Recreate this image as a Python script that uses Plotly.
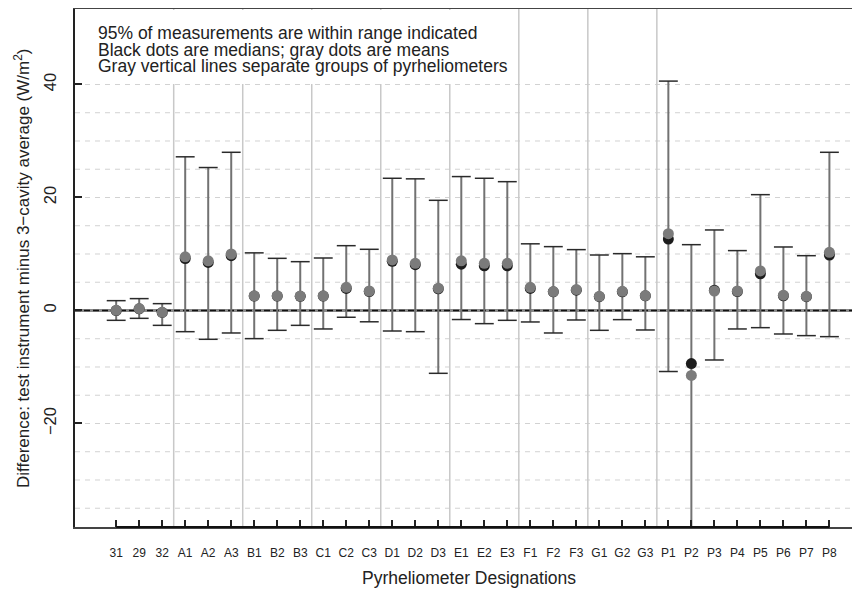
import plotly.graph_objects as go

labels = ["31", "29", "32", "A1", "A2", "A3", "B1", "B2", "B3", "C1", "C2", "C3",
          "D1", "D2", "D3", "E1", "E2", "E3", "F1", "F2", "F3", "G1", "G2", "G3",
          "P1", "P2", "P3", "P4", "P5", "P6", "P7", "P8"]
group_sizes = [3, 3, 3, 3, 3, 3, 3, 3, 8]

means = [0.03, 0.33, -0.33, 9.5, 8.8, 10.0, 2.6, 2.6, 2.55, 2.6, 4.1, 3.45,
         8.95, 8.35, 3.95, 8.8, 8.35, 8.35, 4.1, 3.35, 3.7, 2.5, 3.4, 2.65,
         13.6, -11.5, 3.45, 3.45, 7.0, 2.7, 2.5, 10.3]
medians = [0.0, 0.3, -0.35, 9.2, 8.5, 9.7, 2.55, 2.55, 2.5, 2.55, 3.9, 3.35,
           8.7, 8.1, 3.85, 8.2, 7.9, 7.9, 3.9, 3.3, 3.6, 2.45, 3.3, 2.6,
           12.65, -9.4, 3.6, 3.35, 6.5, 2.6, 2.45, 9.8]
upper = [1.74, 2.1, 1.21, 27.2, 25.3, 28.0, 10.2, 9.23, 8.64, 9.29, 11.47, 10.83,
         23.4, 23.3, 19.5, 23.7, 23.4, 22.8, 11.8, 11.3, 10.77, 9.82, 10.06, 9.5,
         40.6, 11.65, 14.25, 10.6, 20.5, 11.24, 9.7, 28.0]
lower = [-1.74, -1.39, -2.63, -3.75, -5.1, -3.98, -4.98, -3.51, -2.63, -3.27, -1.2, -2.0,
         -3.63, -3.75, -11.12, -1.6, -2.33, -1.74, -2.03, -3.98, -1.68, -3.51, -1.62, -3.45,
         -10.8, -42.0, -8.76, -3.27, -3.04, -4.16, -4.45, -4.63]

y_ticks = [-20, 0, 20, 40]
grid_levels = [-35, -30, -25, -20, -15, -10, -5, 5, 10, 15, 20, 25, 30, 35, 40]
legend_lines = ["95% of measurements are within range indicated",
                "Black dots are medians; gray dots are means",
                "Gray vertical lines separate groups of pyrheliometers"]

FONT = "Liberation Sans, Arial, sans-serif"
TICKFONT = "Liberation Sans Narrow, Liberation Sans, Arial, sans-serif"
OFF = 8  # page body margin in the browser
W, H = 860 - OFF, 590 - OFF
ML, MR, MT, MB = 75 - OFF, 0, 9 - OFF, 590 - 527
PW, PH = W - ML - MR, H - MT - MB


def px_x(sx):
    return (sx - 75) / PW


def px_y(sy):
    return 1 - (sy - 9) / PH


xs = list(range(len(labels)))

seps = []
acc = 0
for g in group_sizes[:-1]:
    acc += g
    seps.append(acc - 0.5)

shapes = []
for lv in grid_levels:
    shapes.append(dict(type="line", xref="paper", yref="y", x0=0, x1=1, y0=lv, y1=lv,
                       line=dict(color="#d2d2d2", width=1, dash="5px,5px"), layer="below"))
for s in seps:
    shapes.append(dict(type="line", xref="x", yref="paper", x0=s, x1=s, y0=0, y1=1,
                       line=dict(color="#c8c8c8", width=1.5), layer="below"))
shapes.append(dict(type="line", xref="paper", yref="y", x0=0, x1=1, y0=0, y1=0,
                   line=dict(color="#8a8a8a", width=3), layer="below"))
shapes.append(dict(type="line", xref="paper", yref="y", x0=0, x1=1, y0=0, y1=0,
                   line=dict(color="#111111", width=1.5, dash="6px,3px"), layer="below"))
shapes.append(dict(type="rect", xref="paper", yref="paper",
                   x0=0.002, x1=px_x(516), y0=px_y(84), y1=0.998,
                   fillcolor="white", line=dict(width=0), layer="below"))
shapes.append(dict(type="line", xref="x", yref="paper", x0=xs[0], x1=xs[-1], y0=0, y1=0,
                   line=dict(color="#111111", width=1.8), layer="above"))

fig = go.Figure()

sx, sy = [], []
for i in xs:
    sx += [i, i, None]
    sy += [lower[i], upper[i], None]
fig.add_trace(go.Scatter(x=sx, y=sy, mode="lines",
                         line=dict(color="#727272", width=2), hoverinfo="skip", showlegend=False))

fig.add_trace(go.Scatter(x=xs + xs, y=lower + upper, mode="markers",
                         marker=dict(symbol="line-ew", size=13.5,
                                     line=dict(color="#2a2a2a", width=1.5)),
                         hoverinfo="skip", showlegend=False))

fig.add_trace(go.Scatter(x=xs, y=medians, mode="markers",
                         marker=dict(color="#1c1c1c", size=11, line=dict(width=0)),
                         name="median", showlegend=False))
fig.add_trace(go.Scatter(x=xs, y=means, mode="markers",
                         marker=dict(color="#7b7b7b", size=11, line=dict(width=0)),
                         name="mean", showlegend=False))

annotations = []
for k, t in enumerate(legend_lines):
    annotations.append(dict(text=t, xref="paper", yref="paper",
                            x=px_x(96), y=px_y(33.5 + 16.3 * k),
                            xanchor="left", yanchor="middle", showarrow=False,
                            font=dict(family=FONT, size=17.5, color="#222222")))
annotations.append(dict(text="Difference: test instrument minus 3\u2212cavity average (W/m<sup>2</sup>)",
                        xref="paper", yref="paper", x=px_x(22), y=0.5,
                        xanchor="center", yanchor="middle", textangle=-90, showarrow=False,
                        font=dict(family=FONT, size=17, color="#222222")))
annotations.append(dict(text="Pyrheliometer Designations", xref="paper", yref="paper",
                        x=px_x(469), y=px_y(578),
                        xanchor="center", yanchor="middle", showarrow=False,
                        font=dict(family=FONT, size=17.5, color="#222222")))

fig.update_layout(
    width=W, height=H,
    margin=dict(l=ML, r=MR, t=MT, b=MB, pad=0),
    paper_bgcolor="white", plot_bgcolor="white",
    shapes=shapes, annotations=annotations,
    showlegend=False,
    xaxis=dict(range=[-1.79, 32.33], tickmode="array", tickvals=xs, ticktext=labels,
               ticks="inside", ticklen=7, tickwidth=1.5, tickcolor="#222222",
               showgrid=False, zeroline=False, showline=True, linecolor="#444444",
               linewidth=1.5, mirror=True, ticklabelstandoff=14,
               tickfont=dict(family=TICKFONT, size=12, color="#222222")),
    yaxis=dict(range=[-38.32, 53.36], tickmode="array", tickvals=y_ticks,
               ticktext=[str(v).replace("-", "\u2212") for v in y_ticks],
               ticks="inside", ticklen=7, tickwidth=1.5, tickcolor="#222222",
               tickangle=-90, showgrid=False, zeroline=False, showline=True,
               linecolor="#222222", linewidth=1.5, mirror=False, ticklabelstandoff=11,
               tickfont=dict(family=FONT, size=16.5, color="#222222")),
)

fig.write_html("out.html")
